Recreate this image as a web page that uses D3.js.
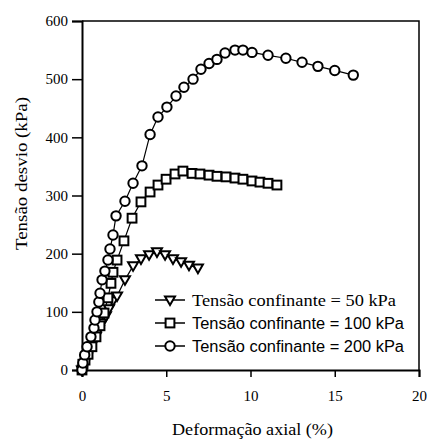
<!DOCTYPE html>
<html>
<head>
<meta charset="utf-8">
<script src="https://cdn.jsdelivr.net/npm/d3@7"></script>
<style>
  body { margin: 0; background: #fff; }
</style>
</head>
<body>
<div id="chart"></div>
<script>
// Data (deformação %, tensão kPa)
const strain50 = [0, 0.12, 0.3, 0.47, 0.65, 0.83, 1.0, 1.19, 1.42, 1.6, 1.84, 2.08, 2.55, 3.03, 3.5, 3.98, 4.45, 4.93, 5.4, 5.88, 6.35, 6.88];
const stress50 = [0, 10, 22, 34, 46, 58, 69, 81, 93, 105, 119, 127, 155, 179, 191, 198, 203, 198, 191, 186, 180, 175];

const strain100 = [0, 0.06, 0.18, 0.36, 0.59, 0.83, 1.07, 1.31, 1.54, 1.72, 1.84, 2.08, 2.49, 2.97, 3.5, 4.04, 4.51, 4.99, 5.52, 5.99, 6.53, 7.0, 7.54, 8.01, 8.55, 9.08, 9.55, 10.09, 10.56, 11.04, 11.57];
const stress100 = [0, 10, 17, 27, 40, 57, 76, 98, 124, 149, 168, 189, 222, 261, 289, 306, 318, 328, 337, 342, 338, 337, 335, 333, 332, 330, 328, 325, 323, 321, 318];

const strain200 = [0, 0.05, 0.16, 0.3, 0.53, 0.71, 0.77, 0.89, 1.0, 1.07, 1.19, 1.36, 1.54, 1.66, 1.84, 2.02, 2.55, 3.03, 3.56, 4.04, 4.51, 5.04, 5.58, 6.05, 6.59, 7.06, 7.54, 8.01, 8.49, 9.08, 9.55, 10.09, 11.04, 12.1, 13.06, 14.0, 15.0, 16.1];
const stress200 = [0, 12, 26, 40, 57, 72, 86, 100, 117, 132, 155, 170, 189, 208, 232, 265, 290, 321, 351, 405, 435, 452, 471, 486, 500, 517, 527, 534, 545, 550, 550, 546, 541, 536, 529, 522, 515, 507];

const xTicks = [0, 5, 10, 15, 20];
const yTicks = [0, 100, 200, 300, 400, 500, 600];
const seriesNames = ["Tensão confinante = 50 kPa", "Tensão confinante = 100 kPa", "Tensão confinante = 200 kPa"];
const seriesSymbols = ["triangle", "square", "circle"];

const width = 427, height = 439;
const margin = {top: 21, right: 8, bottom: 69, left: 82};
const plotW = width - margin.left - margin.right;
const plotH = height - margin.top - margin.bottom;

const svg = d3.select("#chart").append("svg")
    .attr("width", width)
    .attr("height", height);

const g = svg.append("g")
    .attr("transform", `translate(${margin.left},${margin.top})`);

const x = d3.scaleLinear().domain([0, 20]).range([0, plotW]);
const y = d3.scaleLinear().domain([0, 600]).range([plotH, 0]);

const serif = "'Liberation Serif', 'Times New Roman', serif";
const sans = "'Liberation Sans', Arial, sans-serif";

// frame (top and right)
g.append("path")
    .attr("d", `M0,0H${plotW}V${plotH}`)
    .attr("fill", "none")
    .attr("stroke", "#000")
    .attr("stroke-width", 1.5);

// axes
const xAxis = g.append("g")
    .attr("transform", `translate(0,${plotH})`)
    .call(d3.axisBottom(x).tickValues(xTicks).tickSize(7).tickPadding(13).tickFormat(d3.format("d")));
const yAxis = g.append("g")
    .call(d3.axisLeft(y).tickValues(yTicks).tickSize(10).tickPadding(4).tickFormat(d3.format("d")));

[xAxis, yAxis].forEach(a => {
  a.select(".domain").attr("stroke-width", 2);
  a.selectAll(".tick line").attr("stroke-width", 1.5);
  a.selectAll(".tick text").style("font-family", serif).style("font-size", "15px").attr("fill", "#000");
});

// axis labels
svg.append("text")
    .attr("x", 172)
    .attr("y", 435)
    .attr("textLength", 161)
    .attr("lengthAdjust", "spacingAndGlyphs")
    .style("font-family", serif)
    .style("font-size", "16px")
    .text("Deformação axial (%)");

svg.append("text")
    .attr("transform", "translate(27,250) rotate(-90)")
    .attr("textLength", 153)
    .attr("lengthAdjust", "spacingAndGlyphs")
    .style("font-family", serif)
    .style("font-size", "16px")
    .text("Tensão desvio (kPa)");

const series = [
  {xs: strain50, ys: stress50},
  {xs: strain100, ys: stress100},
  {xs: strain200, ys: stress200}
].map((s, i) => ({
  name: seriesNames[i],
  symbol: seriesSymbols[i],
  values: s.xs.map((v, j) => ({x: v, y: s.ys[j]}))
}));

function drawMarker(sel, symbol) {
  if (symbol === "circle") {
    sel.append("circle").attr("r", 4.7);
  } else if (symbol === "square") {
    sel.append("rect").attr("x", -4.4).attr("y", -4.4).attr("width", 8.8).attr("height", 8.8);
  } else {
    sel.append("path").attr("d", "M-5,-3.6L5,-3.6L0,5Z");
  }
}

const line = d3.line().x(d => x(d.x)).y(d => y(d.y));

series.forEach(s => {
  g.append("path")
      .attr("d", line(s.values))
      .attr("fill", "none")
      .attr("stroke", "#000")
      .attr("stroke-width", 1.2);
});

series.forEach(s => {
  const pts = g.append("g")
      .attr("fill", "#fff")
      .attr("stroke", "#000")
      .attr("stroke-width", 2)
    .selectAll("g")
    .data(s.values)
    .join("g")
      .attr("transform", d => `translate(${x(d.x)},${y(d.y)})`);
  pts.each(function() { drawMarker(d3.select(this), s.symbol); });
});

// legend
const legendY = [300, 323, 346];
const legendLen = [204, 212, 212];
const legend = svg.append("g");
series.forEach((s, i) => {
  const row = legend.append("g").attr("transform", `translate(0,${legendY[i]})`);
  row.append("line")
      .attr("x1", 155).attr("x2", 185)
      .attr("stroke", "#000").attr("stroke-width", 1.5);
  const m = row.append("g")
      .attr("transform", "translate(170,0)")
      .attr("fill", "#fff").attr("stroke", "#000").attr("stroke-width", 2);
  drawMarker(m, s.symbol);
  row.append("text")
      .attr("x", 192)
      .attr("y", 5.5)
      .attr("textLength", legendLen[i])
      .attr("lengthAdjust", "spacingAndGlyphs")
      .style("font-family", i === 0 ? serif : sans)
      .style("font-size", "16px")
      .text(s.name);
});
</script>
</body>
</html>
